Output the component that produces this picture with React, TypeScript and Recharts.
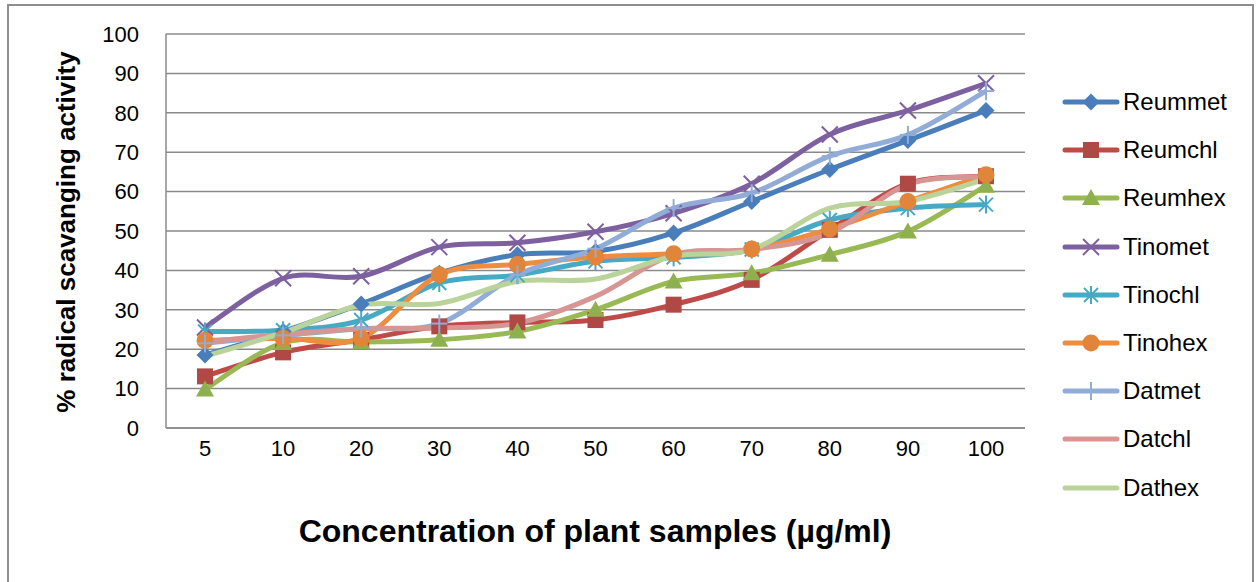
import React from 'react';
import { LineChart, Line, XAxis, YAxis, CartesianGrid } from 'recharts';

const categories = ['5', '10', '20', '30', '40', '50', '60', '70', '80', '90', '100'];
const yTicks = [0, 10, 20, 30, 40, 50, 60, 70, 80, 90, 100];

const reummet = [18.5, 24.5, 31.5, 39.3, 44.0, 44.8, 49.5, 57.5, 65.6, 73.0, 80.6];
const reumchl = [13.1, 19.2, 22.4, 25.8, 26.8, 27.4, 31.3, 37.6, 50.3, 62.0, 63.9];
const reumhex = [9.8, 21.6, 21.8, 22.4, 24.5, 30.0, 37.2, 39.3, 44.0, 49.9, 61.5];
const tinomet = [25.5, 38.0, 38.5, 45.9, 47.0, 49.8, 54.5, 62.0, 74.5, 80.6, 87.5];
const tinochl = [24.5, 24.8, 27.4, 36.8, 38.8, 42.3, 43.3, 45.3, 52.8, 55.8, 56.7];
const tinohex = [22.2, 22.8, 22.8, 38.9, 41.5, 43.4, 44.2, 45.4, 50.5, 57.5, 64.3];
const datmet = [21.5, 23.5, 25.2, 26.5, 38.9, 45.5, 55.8, 59.6, 69.0, 74.4, 85.5];
const datchl = [21.8, 23.8, 25.2, 25.4, 26.6, 33.4, 44.0, 45.3, 49.5, 61.8, 63.8];
const dathex = [18.2, 24.2, 31.2, 31.6, 37.2, 37.8, 43.6, 45.3, 55.8, 57.5, 63.2];

type MarkerKind = 'diamond' | 'square' | 'triangle' | 'x' | 'star' | 'circle' | 'plus' | 'none';

const series: { key: string; values: number[]; color: string; markerColor: string; marker: MarkerKind }[] = [
  { key: 'Reummet', values: reummet, color: '#4A7EBB', markerColor: '#4A7EBB', marker: 'diamond' },
  { key: 'Reumchl', values: reumchl, color: '#BE4B48', markerColor: '#B04845', marker: 'square' },
  { key: 'Reumhex', values: reumhex, color: '#98B954', markerColor: '#8FB04E', marker: 'triangle' },
  { key: 'Tinomet', values: tinomet, color: '#7D60A0', markerColor: '#7D60A0', marker: 'x' },
  { key: 'Tinochl', values: tinochl, color: '#46AAC5', markerColor: '#46AAC5', marker: 'star' },
  { key: 'Tinohex', values: tinohex, color: '#EE8C3F', markerColor: '#E0853A', marker: 'circle' },
  { key: 'Datmet', values: datmet, color: '#91ACD6', markerColor: '#91ACD6', marker: 'plus' },
  { key: 'Datchl', values: datchl, color: '#D79593', markerColor: '#D79593', marker: 'none' },
  { key: 'Dathex', values: dathex, color: '#BAD39B', markerColor: '#BAD39B', marker: 'none' },
];

const data = categories.map((c, i) => {
  const row: Record<string, string | number> = { cat: c };
  series.forEach((s) => {
    row[s.key] = s.values[i];
  });
  return row;
});

// Catmull-Rom style smoothing similar to Excel's smoothed lines
const excelCurve: any = (context: any) => {
  let pts: number[][] = [];
  return {
    areaStart() {},
    areaEnd() {},
    lineStart() {
      pts = [];
    },
    lineEnd() {
      const n = pts.length;
      if (!n) return;
      context.moveTo(pts[0][0], pts[0][1]);
      const t = 1 / 6;
      for (let i = 0; i < n - 1; i++) {
        const p0 = pts[i - 1] || pts[i];
        const p1 = pts[i];
        const p2 = pts[i + 1];
        const p3 = pts[i + 2] || p2;
        context.bezierCurveTo(
          p1[0] + (p2[0] - p0[0]) * t,
          p1[1] + (p2[1] - p0[1]) * t,
          p2[0] - (p3[0] - p1[0]) * t,
          p2[1] - (p3[1] - p1[1]) * t,
          p2[0],
          p2[1]
        );
      }
    },
    point(x: number, y: number) {
      pts.push([+x, +y]);
    },
  };
};

function MarkerShape({ kind, cx, cy, color }: { kind: MarkerKind; cx: number; cy: number; color: string }) {
  const r = 8.5;
  switch (kind) {
    case 'diamond':
      return <polygon points={`${cx},${cy - r} ${cx + r},${cy} ${cx},${cy + r} ${cx - r},${cy}`} fill={color} />;
    case 'square':
      return <rect x={cx - 8} y={cy - 8} width={16} height={16} fill={color} />;
    case 'triangle':
      return <polygon points={`${cx},${cy - 9} ${cx + 9},${cy + 7} ${cx - 9},${cy + 7}`} fill={color} />;
    case 'x':
      return (
        <g stroke={color} strokeWidth={2}>
          <line x1={cx - 8} y1={cy - 8} x2={cx + 8} y2={cy + 8} />
          <line x1={cx - 8} y1={cy + 8} x2={cx + 8} y2={cy - 8} />
        </g>
      );
    case 'star':
      return (
        <g stroke={color} strokeWidth={2}>
          <line x1={cx - 7} y1={cy - 7} x2={cx + 7} y2={cy + 7} />
          <line x1={cx - 7} y1={cy + 7} x2={cx + 7} y2={cy - 7} />
          <line x1={cx} y1={cy - 9} x2={cx} y2={cy + 9} />
        </g>
      );
    case 'circle':
      return <circle cx={cx} cy={cy} r={8.5} fill={color} />;
    case 'plus':
      return (
        <g stroke={color} strokeWidth={2}>
          <line x1={cx - 8} y1={cy} x2={cx + 8} y2={cy} />
          <line x1={cx} y1={cy - 9} x2={cx} y2={cy + 9} />
        </g>
      );
    default:
      return null;
  }
}

const FONT = '"Liberation Sans", Arial, sans-serif';

function ChartLegend() {
  return (
    <div style={{ position: 'absolute', left: 1062, top: 78, width: 190, fontFamily: FONT }}>
      {series.map((s) => (
        <div key={s.key} style={{ display: 'flex', alignItems: 'center', height: 48.2 }}>
          <svg width={58} height={24} style={{ display: 'block' }}>
            <line x1={3} y1={12} x2={55} y2={12} stroke={s.color} strokeWidth={5} strokeLinecap="round" />
            <MarkerShape kind={s.marker} cx={29} cy={12} color={s.markerColor} />
          </svg>
          <span style={{ fontSize: 24, color: '#000', marginLeft: 3, lineHeight: '24px' }}>{s.key}</span>
        </div>
      ))}
    </div>
  );
}

export default function App() {
  return (
    <div style={{ position: 'absolute', left: 0, top: 0, width: 1257, height: 582, overflow: 'hidden', background: '#fff' }}>
      <div
        style={{
          position: 'absolute',
          left: 7,
          top: 4,
          width: 1247,
          height: 620,
          border: '2px solid #8E8E8E',
          boxSizing: 'border-box',
        }}
      />
      <div style={{ position: 'absolute', left: 0, top: 0 }}>
        <LineChart width={1257} height={582} data={data} margin={{ top: 34, right: 232, bottom: 124, left: 0 }}>
          <CartesianGrid vertical={false} stroke="#8A8A8A" strokeWidth={1.5} />
          <XAxis
            dataKey="cat"
            height={30}
            padding={{ left: 39, right: 39 }}
            axisLine={{ stroke: '#8A8A8A', strokeWidth: 1.5 }}
            tickLine={false}
            tickSize={0}
            tickMargin={12}
            tick={{ fill: '#000', fontSize: 22, fontFamily: FONT }}
            interval={0}
            label={{
              content: () => (
                <text x={595} y={531} textAnchor="middle" dominantBaseline="central" fontFamily={FONT} fontWeight="bold" fontSize={32} fill="#000">
                  Concentration of plant samples (µg/ml)
                </text>
              ),
            }}
          />
          <YAxis
            width={166}
            domain={[0, 100]}
            ticks={yTicks}
            interval={0}
            axisLine={{ stroke: '#8A8A8A', strokeWidth: 1.5 }}
            tickLine={false}
            tickSize={0}
            tickMargin={27}
            tick={{ fill: '#000', fontSize: 22, fontFamily: FONT }}
            label={{
              content: () => (
                <text
                  x={66}
                  y={232}
                  transform="rotate(-90 66 232)"
                  textAnchor="middle"
                  dominantBaseline="central"
                  fontFamily={FONT}
                  fontWeight="bold"
                  fontSize={26}
                  fill="#000"
                >
                  % radical scavanging activity
                </text>
              ),
            }}
          />
          {series.map((s) => (
            <Line
              key={s.key}
              dataKey={s.key}
              name={s.key}
              type={excelCurve}
              stroke={s.color}
              strokeWidth={5}
              isAnimationActive={false}
              activeDot={false}
              dot={(p: any) => (
                <g key={`${s.key}-${p.index}`}>
                  <MarkerShape kind={s.marker} cx={p.cx} cy={p.cy} color={s.markerColor} />
                </g>
              )}
            />
          ))}
        </LineChart>
      </div>
      <ChartLegend />
    </div>
  );
}
